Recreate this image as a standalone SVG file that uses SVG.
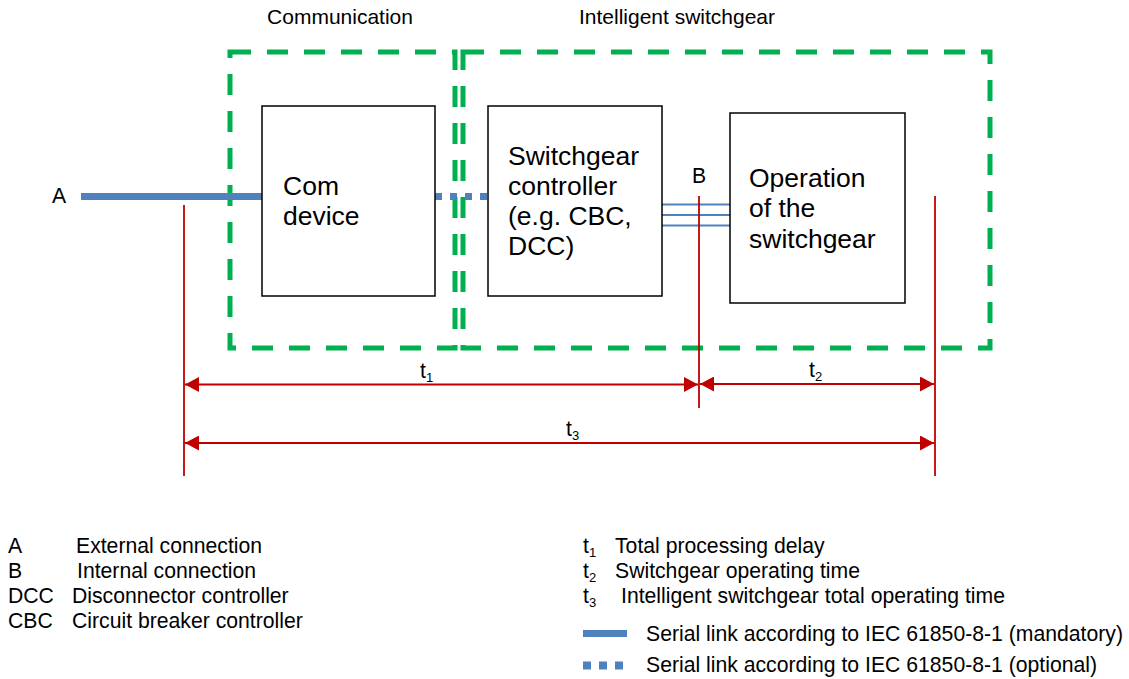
<svg xmlns="http://www.w3.org/2000/svg" width="1129" height="679" viewBox="0 0 1129 679">
<defs>
<style>
text{font-family:"Liberation Sans",Arial,sans-serif;fill:#000}
.lbl{font-size:21px}
.leg{font-size:21.2px}
.sub{font-size:13px}
.node{font-size:26.5px}
.box{fill:#fff;stroke:#000;stroke-width:1.5}
.zone{fill:none;stroke:#00B050;stroke-width:5;stroke-dasharray:21 16}
.red{stroke:#C00000;stroke-width:1.8;fill:none}
.dim{stroke:#C00000;stroke-width:2.2;fill:none}
.blue{stroke:#4F81BD;fill:none}
</style>
<marker id="ah" viewBox="0 0 14 15" refX="14" refY="7.5" markerWidth="14" markerHeight="15" markerUnits="userSpaceOnUse" orient="auto-start-reverse">
<path d="M0,0 L14,7.5 L0,15 z" fill="#C00000"/>
</marker>
</defs>
<rect width="1129" height="679" fill="#fff"/>

<g id="zone-communication">
<rect class="zone" x="230" y="52" width="225" height="296"/>
<text class="lbl" x="340" y="24" text-anchor="middle">Communication</text>
</g>
<g id="zone-intelligent">
<rect class="zone" x="463" y="52" width="527" height="296"/>
<text class="lbl" x="677" y="24" text-anchor="middle">Intelligent switchgear</text>
</g>

<g id="connectors">
<line class="blue" x1="81" y1="196.5" x2="262" y2="196.5" stroke-width="7"/>
<line class="blue" x1="435" y1="196.5" x2="488" y2="196.5" stroke-width="7" stroke-dasharray="7 8"/>
<line class="blue" x1="662" y1="204.5" x2="730" y2="204.5" stroke-width="2"/>
<line class="blue" x1="662" y1="215" x2="730" y2="215" stroke-width="2"/>
<line class="blue" x1="662" y1="225.5" x2="730" y2="225.5" stroke-width="2"/>
<line class="red" x1="184" y1="205" x2="184" y2="476"/>
<line class="red" x1="699" y1="196" x2="699" y2="408"/>
<line class="red" x1="935" y1="196" x2="935" y2="476"/>
<line class="dim" x1="185" y1="384.5" x2="698" y2="384.5" marker-start="url(#ah)" marker-end="url(#ah)"/>
<line class="dim" x1="700" y1="384" x2="934" y2="384" marker-start="url(#ah)" marker-end="url(#ah)"/>
<line class="dim" x1="185" y1="443" x2="934" y2="443" marker-start="url(#ah)" marker-end="url(#ah)"/>
<text class="leg" x="59" y="203" text-anchor="middle">A</text>
<text class="leg" x="699" y="183" text-anchor="middle">B</text>
<text class="leg" x="420" y="378">t<tspan class="sub" dy="4">1</tspan></text>
<text class="leg" x="809" y="377">t<tspan class="sub" dy="4">2</tspan></text>
<text class="leg" x="566" y="436">t<tspan class="sub" dy="4">3</tspan></text>
</g>

<g id="node-com-device">
<rect class="box" x="262" y="106" width="173" height="190"/>
<text class="node" x="283" y="195">Com</text>
<text class="node" x="283" y="225">device</text>
</g>
<g id="node-switchgear-controller">
<rect class="box" x="488" y="106" width="174" height="190"/>
<text class="node" x="508" y="165">Switchgear</text>
<text class="node" x="508" y="195">controller</text>
<text class="node" x="508" y="225">(e.g. CBC,</text>
<text class="node" x="508" y="255">DCC)</text>
</g>
<g id="node-operation">
<rect class="box" x="730" y="113" width="175" height="190"/>
<text class="node" x="749" y="187">Operation</text>
<text class="node" x="749" y="217">of the</text>
<text class="node" x="749" y="248">switchgear</text>
</g>

<g id="legend">
<text class="leg" x="8" y="553">A</text>
<text class="leg" x="76" y="553">External connection</text>
<text class="leg" x="8" y="578">B</text>
<text class="leg" x="77" y="578">Internal connection</text>
<text class="leg" x="8" y="603">DCC</text>
<text class="leg" x="72" y="603">Disconnector controller</text>
<text class="leg" x="8" y="628">CBC</text>
<text class="leg" x="72" y="628">Circuit breaker controller</text>
<text class="leg" x="583" y="553">t<tspan class="sub" dy="4">1</tspan></text>
<text class="leg" x="615" y="553">Total processing delay</text>
<text class="leg" x="583" y="578">t<tspan class="sub" dy="4">2</tspan></text>
<text class="leg" x="615" y="578">Switchgear operating time</text>
<text class="leg" x="583" y="603">t<tspan class="sub" dy="4">3</tspan></text>
<text class="leg" x="621" y="603">Intelligent switchgear total operating time</text>
<line class="blue" x1="583" y1="633.5" x2="627" y2="633.5" stroke-width="7"/>
<text class="leg" x="646" y="641">Serial link according to IEC 61850-8-1 (mandatory)</text>
<line class="blue" x1="583" y1="665.5" x2="624" y2="665.5" stroke-width="8" stroke-dasharray="8 8"/>
<text class="leg" x="646" y="672">Serial link according to IEC 61850-8-1 (optional)</text>
</g>
</svg>
